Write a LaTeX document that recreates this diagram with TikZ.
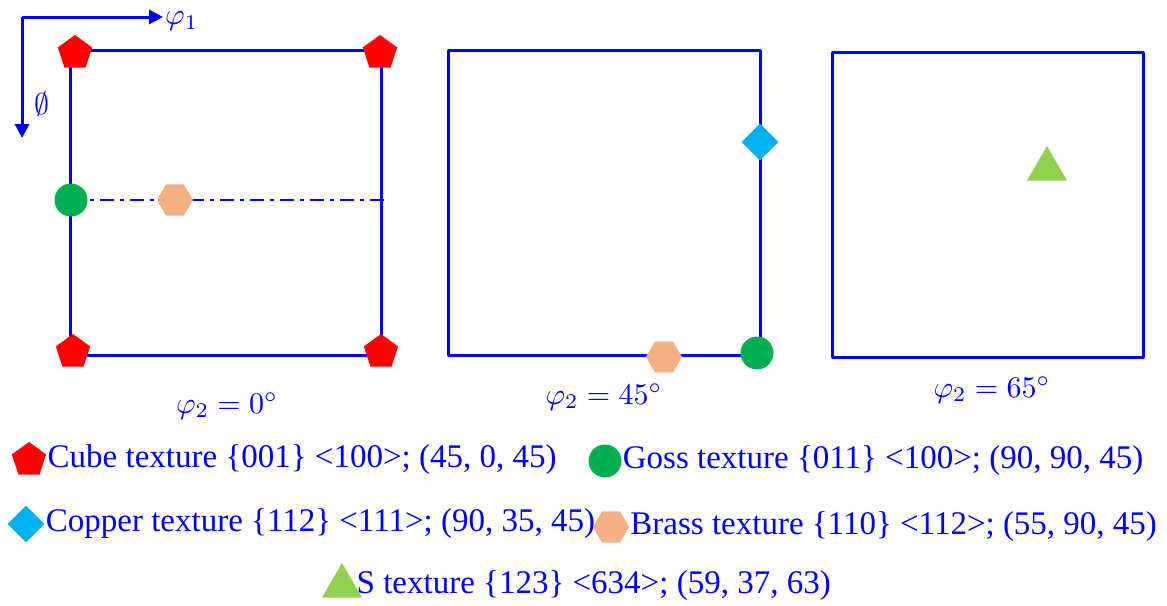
\documentclass[tikz,border=0pt]{standalone}
\usepackage{graphicx}
\usepackage{fontspec}
\setmainfont{Liberation Serif}
\usetikzlibrary{positioning, arrows.meta, shapes.geometric}
\definecolor{odfblue}{RGB}{0,0,255}
\definecolor{cubered}{RGB}{255,0,0}
\definecolor{gossgreen}{RGB}{0,176,80}
\definecolor{coppercyan}{RGB}{0,176,240}
\definecolor{brassorange}{RGB}{244,177,131}
\definecolor{sgreen}{RGB}{146,208,80}
\newcommand{\bigmath}[1]{\scalebox{3.0}{$#1$}}

\begin{document}
\begin{tikzpicture}[
    x=1pt, y=-1pt,
    frame/.style={draw=odfblue, line width=3pt, line join=round},
    arrow/.style={-{Triangle[length=14pt, width=14pt]}, draw=odfblue, line width=3pt},
    cube/.style={regular polygon, regular polygon sides=5, fill=cubered, inner sep=0pt, minimum size=36pt},
    goss/.style={circle, fill=gossgreen, inner sep=0pt, minimum size=33pt},
    copper/.style={diamond, aspect=1, fill=coppercyan, inner sep=0pt, minimum size=37pt},
    brass/.style={regular polygon, regular polygon sides=6, fill=brassorange, inner sep=0pt, minimum size=36pt},
    stex/.style={regular polygon, regular polygon sides=3, fill=sgreen, inner sep=0pt, minimum size=46pt},
    angle/.style={text=odfblue, inner sep=1pt},
    legend/.style={text=odfblue, font=\fontsize{33}{35}\selectfont, inner sep=1pt, anchor=west}
]
    \useasboundingbox (0,0) rectangle (1167,605);

    % sections
    \draw[frame] (70,50) rectangle (381,355);
    \draw[frame] (448,50) rectangle (760,355);
    \draw[frame] (832,52) rectangle (1143,357);
    \draw[odfblue, line width=2.5pt, dash pattern=on 14pt off 6pt on 4pt off 6pt] (70,200) -- (385,200);

    % Euler axes
    \coordinate (origin) at (22,17);
    \coordinate (phiend) at (163,17);
    \coordinate (Phiend) at (22,138);
    \draw[arrow] (origin) -- (phiend);
    \draw[arrow] (origin) -- (Phiend);
    \node[angle, right=1pt of phiend, yshift=-4pt] (phione) {\bigmath{\varphi_1}};
    \node[angle] (Phi) at (42,104) {\bigmath{\emptyset}};

    % orientations
    \node[cube] (c1) at (75,53) {};
    \node[cube] (c2) at (380,53) {};
    \node[cube] (c3) at (73,352) {};
    \node[cube] (c4) at (381,352) {};
    \node[goss] (g1) at (71,200) {};
    \node[brass] (b1) at (175,200) {};
    \node[copper] (cu) at (760,142) {};
    \node[brass] (b2) at (664,357) {};
    \node[goss] (g2) at (757,353) {};
    \node[stex] (s1) at (1047,169) {};

    \node[angle] (sec1) at (227,406) {\bigmath{\varphi_2=0^{\circ}}};
    \node[angle] (sec2) at (604,397) {\bigmath{\varphi_2=45^{\circ}}};
    \node[angle] (sec3) at (992,390) {\bigmath{\varphi_2=65^{\circ}}};

    % legend
    \node[cube] (lcube) at (29,460) {};
    \node[legend, right=2pt of lcube] (tcube) {Cube texture \{001\} <100>; (45, 0, 45)};
    \node[goss] (lgoss) at (605,461) {};
    \node[legend, right=0pt of lgoss] (tgoss) {Goss texture \{011\} <100>; (90, 90, 45)};
    \node[copper] (lcopper) at (26,524) {};
    \node[legend, right=0pt of lcopper] (tcopper) {Copper texture \{112\} <111>; (90, 35, 45)};
    \node[brass] (lbrass) at (611,527) {};
    \node[legend, right=0pt of lbrass] (tbrass) {Brass texture \{110\} <112>; (55, 90, 45)};
    \node[stex] (ls) at (342,586) {};
    \node[legend, right=0pt of ls] (ts) {S texture \{123\} <634>; (59, 37, 63)};
\end{tikzpicture}
\end{document}
